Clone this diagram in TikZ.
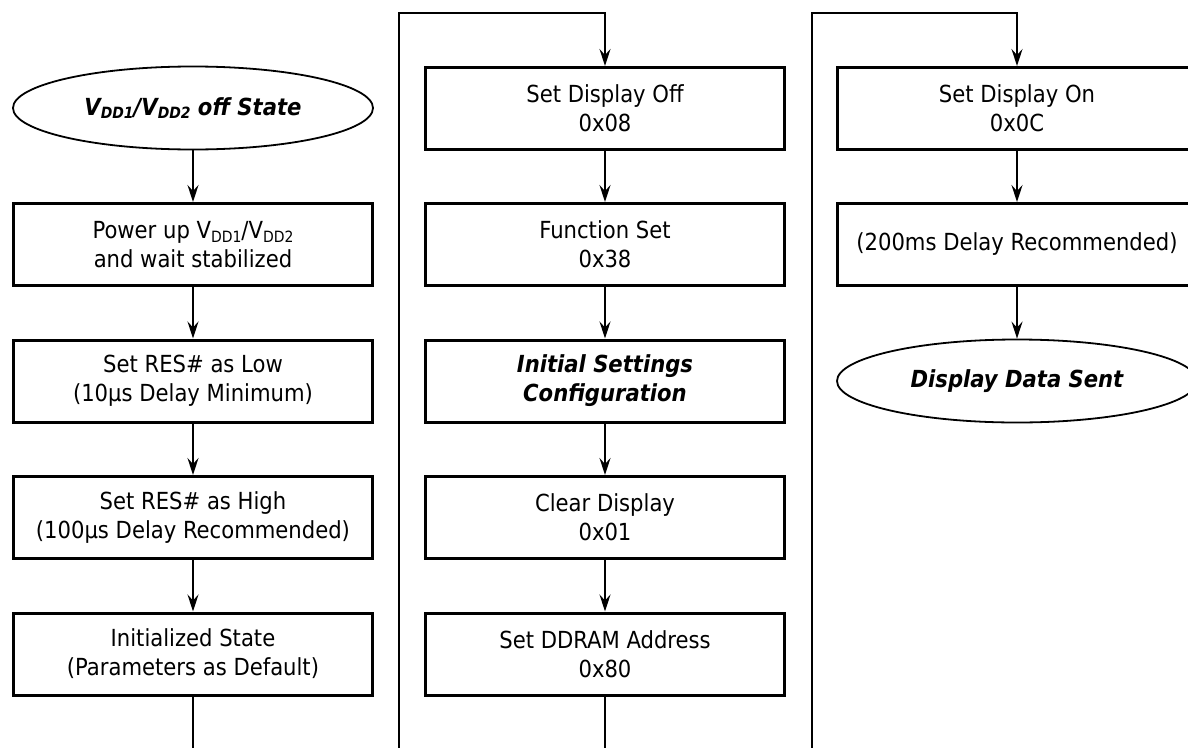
\documentclass[tikz,border=0pt]{standalone}
\usepackage{fontspec}
\setmainfont{DejaVu Sans Condensed}
\usetikzlibrary{arrows.meta,shapes.geometric}
\newcommand{\sbs}[1]{\raisebox{-0.3ex}{\fontsize{15.5}{15.5}\selectfont #1}}
\begin{document}
\begin{tikzpicture}[x=1pt,y=-1pt,
  every node/.style={font=\fontsize{23.5}{29}\selectfont, align=center},
  stepbox/.style={draw, line width=3pt, rectangle, minimum width=359pt, minimum height=82pt, inner sep=0pt},
  term/.style={draw, line width=1.8pt, ellipse, minimum width=360pt, minimum height=83pt, inner sep=0pt, font=\fontsize{23.5}{29}\selectfont\bfseries\itshape},
  arr/.style={line width=2pt, -{Stealth[length=17pt,width=11pt,inset=6pt]}},
  link/.style={line width=2pt}]
\clip (0,0) rectangle (1188,747);
\fill[white] (0,0) rectangle (1188,747);
% column 1
\node[term] (a0) at (193,108) {V\sbs{DD1}/V\sbs{DD2} off State};
\node[stepbox] (a1) at (193,244.5) {Power up V\sbs{DD1}/V\sbs{DD2}\\and wait stabilized};
\node[stepbox] (a2) at (193,381) {Set RES\# as Low\\(10µs Delay Minimum)};
\node[stepbox] (a3) at (193,517.5) {Set RES\# as High\\(100µs Delay Recommended)};
\node[stepbox] (a4) at (193,654) {Initialized State\\(Parameters as Default)};
% column 2
\node[stepbox] (b1) at (605,108.5) {Set Display Off\\0x08};
\node[stepbox] (b2) at (605,244.5) {Function Set\\0x38};
\node[stepbox, font=\fontsize{23.5}{29}\selectfont\bfseries\itshape] (b3) at (605,381) {Initial Settings\\Configuration};
\node[stepbox] (b4) at (605,517.5) {Clear Display\\0x01};
\node[stepbox] (b5) at (605,654) {Set DDRAM Address\\0x80};
% column 3
\node[stepbox] (c1) at (1017,108.5) {Set Display On\\0x0C};
\node[stepbox] (c2) at (1017,244.5) {(200ms Delay Recommended)};
\node[term] (c3) at (1017,381) {Display Data Sent};
% turn points
\coordinate (j1) at (399,780);
\coordinate (t1) at (399,13);
\coordinate (j2) at (812,780);
\coordinate (t2) at (812,13);
% connectors
\draw[arr] (a0) -- (a1);
\draw[arr] (a1) -- (a2);
\draw[arr] (a2) -- (a3);
\draw[arr] (a3) -- (a4);
\draw[arr] (a4.south) |- (j1) -- (t1) -| (b1.north);
\draw[arr] (b1) -- (b2);
\draw[arr] (b2) -- (b3);
\draw[arr] (b3) -- (b4);
\draw[arr] (b4) -- (b5);
\draw[arr] (b5.south) |- (j2) -- (t2) -| (c1.north);
\draw[arr] (c1) -- (c2);
\draw[arr] (c2) -- (c3);
\end{tikzpicture}
\end{document}
